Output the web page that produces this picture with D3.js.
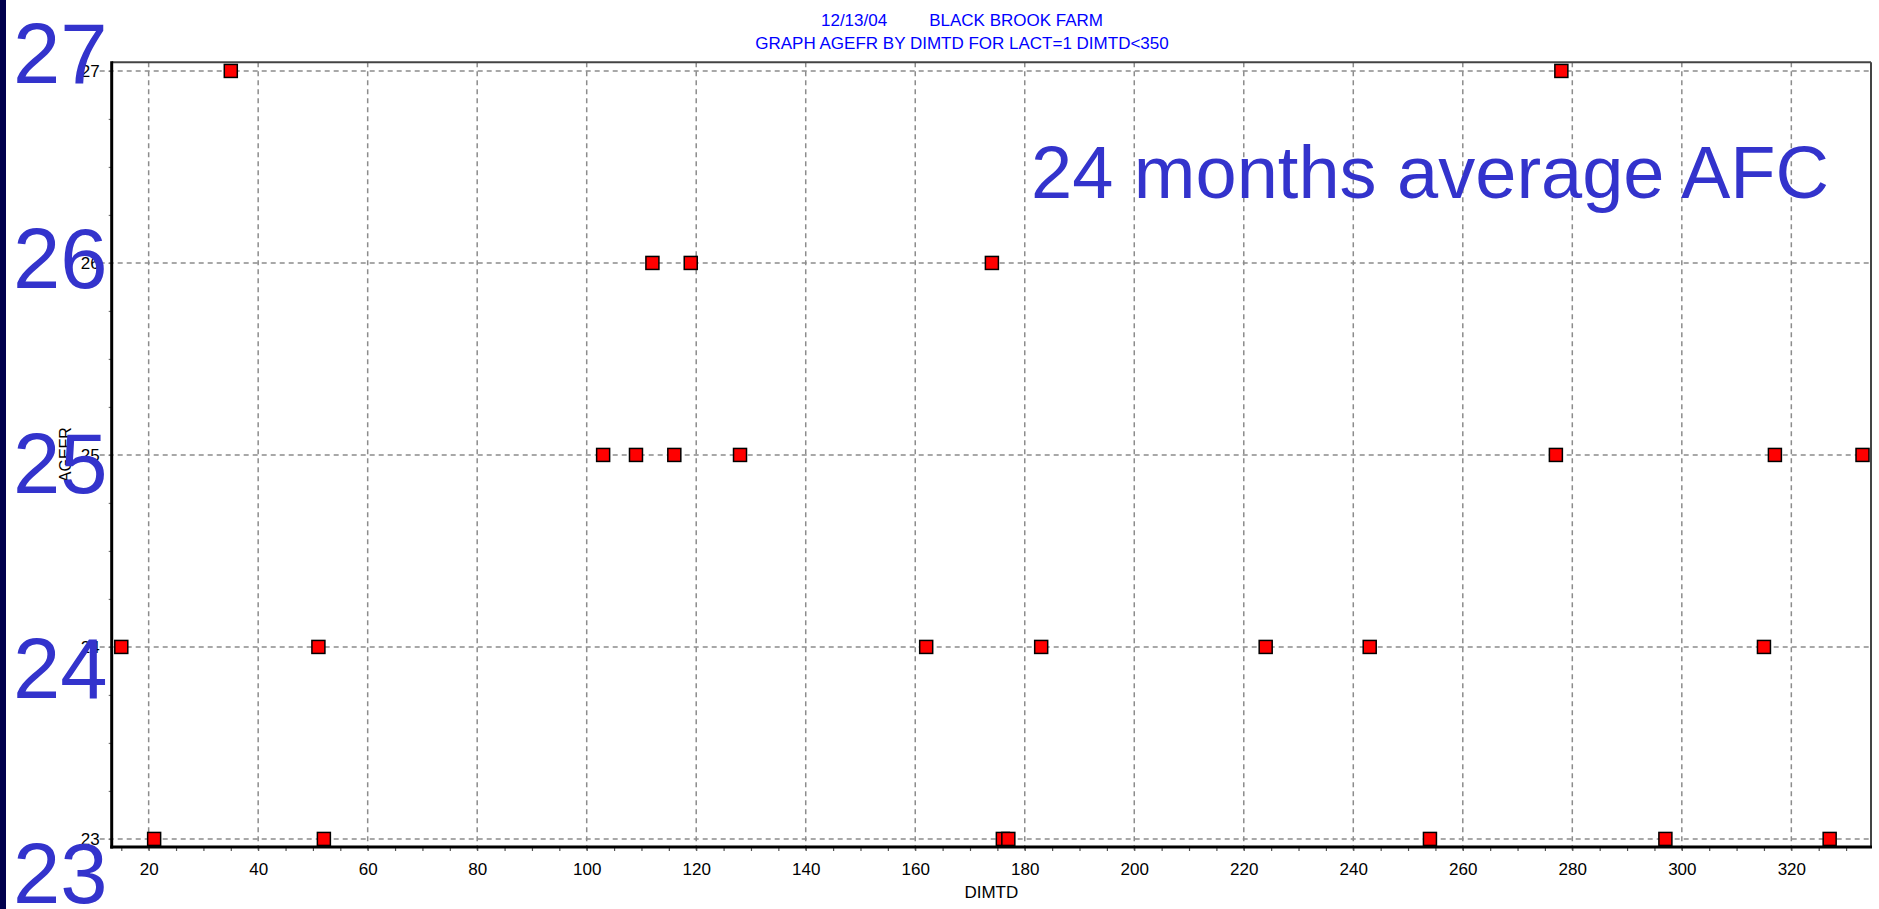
<!DOCTYPE html>
<html>
<head>
<meta charset="utf-8">
<script src="https://cdn.jsdelivr.net/npm/d3@7"></script>
<style>
  html, body { margin: 0; padding: 0; background: #ffffff; }
  svg { display: block; }
  text { font-family: "Liberation Sans", Arial, sans-serif; }
</style>
</head>
<body>
<svg id="chart" width="1879" height="909"></svg>
<script>
// ---- data ----
const titleDate = "12/13/04";
const titleFarm = "BLACK BROOK FARM";
const titleLine2 = "GRAPH AGEFR BY DIMTD FOR LACT=1 DIMTD<350";
const xTitle = "DIMTD";
const yTitle = "AGEFR";
const annotation = "24 months average AFC";
const bigLabels = ["27", "26", "25", "24", "23"];

const xTicks = [20, 40, 60, 80, 100, 120, 140, 160, 180, 200, 220, 240, 260, 280, 300, 320];
const yTicks = [23, 24, 25, 26, 27];
const xDomain = [13.25, 334.55];
const yDomain = [22.958, 27.045];

// DIMTD values per AGEFR level
const dimtd27 = [35, 278];
const dimtd26 = [112, 119, 174];
const dimtd25 = [103, 109, 116, 128, 277, 317, 333];
const dimtd24 = [15, 51, 162, 183, 224, 243, 315];
const dimtd23 = [21, 52, 176, 177, 254, 297, 327];

const points = []
  .concat(dimtd27.map(d => ({ x: d, y: 27 })))
  .concat(dimtd26.map(d => ({ x: d, y: 26 })))
  .concat(dimtd25.map(d => ({ x: d, y: 25 })))
  .concat(dimtd24.map(d => ({ x: d, y: 24 })))
  .concat(dimtd23.map(d => ({ x: d, y: 23 })));

// ---- layout ----
const W = 1879, H = 909;
const plot = { left: 111.7, right: 1871, top: 62.3, bottom: 847 };

const svg = d3.select("#chart");
const x = d3.scaleLinear().domain(xDomain).range([plot.left, plot.right]);
const y = d3.scaleLinear().domain(yDomain).range([plot.bottom, plot.top]);

// navy strip on the far left
svg.append("rect").attr("x", 0).attr("y", 0).attr("width", 6).attr("height", H).attr("fill", "#00004d");

// grid lines
const gridColor = "#8c8c8c";
svg.append("g").selectAll("line").data(xTicks).join("line")
  .attr("x1", d => x(d)).attr("x2", d => x(d))
  .attr("y1", plot.top).attr("y2", plot.bottom + 6)
  .attr("stroke", gridColor).attr("stroke-width", 1.5).attr("stroke-dasharray", "5,4");
svg.append("g").selectAll("line").data(yTicks).join("line")
  .attr("x1", plot.left - 12).attr("x2", plot.right)
  .attr("y1", d => y(d)).attr("y2", d => y(d))
  .attr("stroke", gridColor).attr("stroke-width", 1.5).attr("stroke-dasharray", "5,4");

// top and right frame
svg.append("line").attr("x1", plot.left).attr("x2", plot.right).attr("y1", plot.top).attr("y2", plot.top)
  .attr("stroke", "#444").attr("stroke-width", 2);
svg.append("line").attr("x1", plot.right).attr("x2", plot.right).attr("y1", plot.top).attr("y2", plot.bottom)
  .attr("stroke", "#444").attr("stroke-width", 2);

// minor ticks
const xMinor = d3.range(15, 335, 5);
const yMinor = d3.range(23, 27.01, 0.25);
svg.append("g").attr("transform", `translate(0,${plot.bottom})`)
  .call(d3.axisBottom(x).tickValues(xMinor).tickSize(4).tickSizeOuter(0).tickFormat(""))
  .call(g => g.select(".domain").remove())
  .call(g => g.selectAll("line").attr("stroke", "#555").attr("stroke-width", 1.2));
svg.append("g").attr("transform", `translate(${plot.left},0)`)
  .call(d3.axisLeft(y).tickValues(yMinor).tickSize(3).tickSizeOuter(0).tickFormat(""))
  .call(g => g.select(".domain").remove())
  .call(g => g.selectAll("line").attr("stroke", "#777").attr("stroke-width", 1.2));

// x axis labels
svg.append("g").attr("transform", `translate(0,${plot.bottom})`)
  .call(d3.axisBottom(x).tickValues(xTicks).tickSize(0).tickPadding(16).tickSizeOuter(0).tickFormat(d3.format("d")))
  .call(g => g.select(".domain").remove())
  .call(g => g.selectAll("text").attr("font-size", 17).attr("fill", "#000")
    .style("font-family", "'Liberation Sans', Arial, sans-serif"));

// y axis labels
svg.append("g").attr("transform", `translate(${plot.left},0)`)
  .call(d3.axisLeft(y).tickValues(yTicks).tickSize(0).tickPadding(12).tickSizeOuter(0).tickFormat(d3.format("d")))
  .call(g => g.select(".domain").remove())
  .call(g => g.selectAll("text").attr("font-size", 17).attr("fill", "#000")
    .style("font-family", "'Liberation Sans', Arial, sans-serif"));

// thick axis lines
svg.append("line").attr("x1", plot.left).attr("x2", plot.left).attr("y1", plot.top - 1).attr("y2", plot.bottom + 1.5)
  .attr("stroke", "#000").attr("stroke-width", 3);
svg.append("line").attr("x1", plot.left - 1.5).attr("x2", plot.right + 1).attr("y1", plot.bottom).attr("y2", plot.bottom)
  .attr("stroke", "#000").attr("stroke-width", 3);

// markers
const ms = 13;
svg.append("g").selectAll("rect").data(points).join("rect")
  .attr("x", d => x(d.x) - ms / 2).attr("y", d => y(d.y) - ms / 2)
  .attr("width", ms).attr("height", ms)
  .attr("fill", "#ff0000").attr("stroke", "#000").attr("stroke-width", 1.5);

// titles
const t1 = svg.append("text").attr("x", 962).attr("y", 26).attr("text-anchor", "middle")
  .attr("font-size", 17).attr("fill", "#0000ff");
t1.append("tspan").text(titleDate);
t1.append("tspan").attr("dx", 42).text(titleFarm);
svg.append("text").attr("x", 962).attr("y", 49).attr("text-anchor", "middle")
  .attr("font-size", 17).attr("fill", "#0000ff").text(titleLine2);

// axis titles
svg.append("text").attr("x", (plot.left + plot.right) / 2).attr("y", 898).attr("text-anchor", "middle")
  .attr("font-size", 17).attr("fill", "#000").text(xTitle);
svg.append("text").attr("transform", `translate(71,${(plot.top + plot.bottom) / 2}) rotate(-90)`)
  .attr("text-anchor", "middle").attr("font-size", 16).attr("fill", "#000").text(yTitle);

// big overlay labels
svg.append("g").selectAll("text").data(bigLabels).join("text")
  .attr("x", 13).attr("y", (d, i) => 83 + i * 205)
  .attr("font-size", 85).attr("fill", "#3333cc").text(d => d);

svg.append("text").attr("x", 1031).attr("y", 198)
  .attr("font-size", 74).attr("fill", "#3333cc").text(annotation);
</script>
</body>
</html>
